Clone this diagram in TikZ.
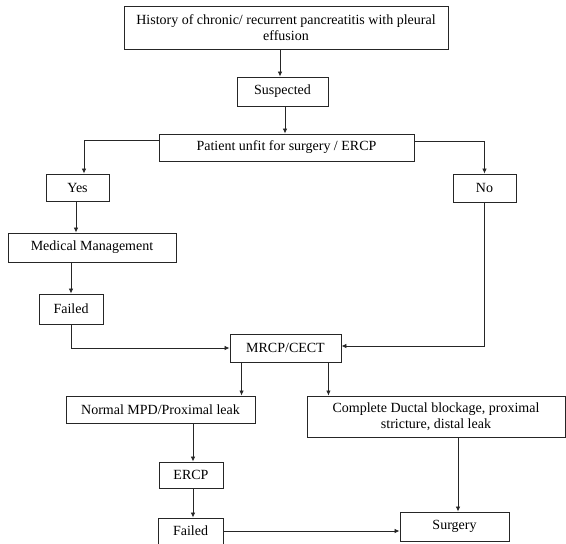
\documentclass[tikz,border=0pt]{standalone}
\usepackage{fontspec}
\setmainfont{Liberation Serif}
\usetikzlibrary{arrows.meta}

\begin{document}
\begin{tikzpicture}[x=1pt, y=-1pt, line width=0.8pt,
  box/.style={draw=black!85, line width=0.9pt, inner sep=0pt, align=center, font=\fontsize{14}{16}\selectfont},
  arr/.style={-{Latex[length=5pt,width=4.5pt]}, draw=black!85}]
\useasboundingbox (0,0) rectangle (566,544);
\node[box, minimum width=324pt, minimum height=43pt] (hist) at (286,27.5) {History of chronic/ recurrent pancreatitis with pleural\\effusion};
\node[box, minimum width=91pt, minimum height=29pt] (susp) at (282.5,91.5) {Suspected};
\node[box, minimum width=255pt, minimum height=27pt] (unfit) at (286.5,147.5) {Patient unfit for surgery / ERCP};
\node[box, minimum width=63pt, minimum height=27pt] (yes) at (77.5,187.5) {Yes};
\node[box, minimum width=63pt, minimum height=28pt] (no) at (484.5,188) {No};
\node[box, minimum width=168pt, minimum height=29pt] (med) at (92,247.5) {Medical Management};
\node[box, minimum width=64pt, minimum height=30pt] (failA) at (71,309) {Failed};
\node[box, minimum width=111pt, minimum height=28pt] (mrcp) at (285.5,348) {MRCP/CECT};
\node[box, minimum width=189pt, minimum height=27pt] (mpd) at (160.5,409.5) {Normal MPD/Proximal leak};
\node[box, minimum width=258pt, minimum height=41pt] (block) at (436,416.5) {Complete Ductal blockage, proximal\\stricture, distal leak};
\node[box, minimum width=64pt, minimum height=26pt] (ercp) at (191,475) {ERCP};
\node[box, minimum width=65pt, minimum height=26pt] (failB) at (190.5,531) {Failed};
\node[box, minimum width=109pt, minimum height=29pt] (surg) at (454.5,526.5) {Surgery};
% top part
\draw[arr] ([xshift=-2.5pt]susp.north |- hist.south) -- ([xshift=-2.5pt]susp.north);
\draw[arr] ([xshift=2.5pt]susp.south) -- ([xshift=2.5pt]susp.south |- unfit.north);
\draw[arr] ([yshift=7.5pt]unfit.west) -| ([xshift=6.5pt]yes.north);
\draw[arr] ([yshift=6.5pt]unfit.east) -| (no.north);
% yes branch
\draw[arr] ([xshift=-1.5pt]yes.south) -- ([xshift=-1.5pt]yes.south |- med.north);
\draw[arr] (failA.north |- med.south) -- (failA.north);
\draw[arr] (failA.south) |- (mrcp.west);
\draw[arr] (no.south) |- ([yshift=2pt]mrcp.east);
% after MRCP
\draw[arr] ([xshift=12pt]mrcp.south west) -- ([xshift=12pt]mrcp.south west |- mpd.north);
\draw[arr] ([xshift=-13pt]mrcp.south east) -- ([xshift=-13pt]mrcp.south east |- block.north);
\draw[arr] ([xshift=2pt]ercp.north |- mpd.south) -- ([xshift=2pt]ercp.north);
\draw[arr] ([xshift=2pt]ercp.south) -- ([xshift=2pt]ercp.south |- failB.north);
\draw[arr] ([xshift=3.5pt]surg.north |- block.south) -- ([xshift=3.5pt]surg.north);
\draw[arr] (failB.east) -- (failB.east -| surg.west);
\end{tikzpicture}
\end{document}
